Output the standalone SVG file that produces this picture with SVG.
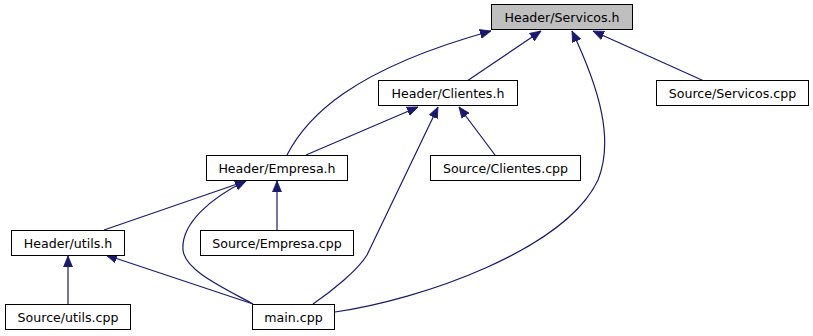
<svg xmlns="http://www.w3.org/2000/svg" width="813" height="336" viewBox="0 0 813 336">
  <style>
    .node rect { fill: #ffffff; stroke: #000000; stroke-width: 1; }
    .node.current rect { fill: #bfbfbf; }
    .node text { font-family: "DejaVu Sans", "Liberation Sans", sans-serif; font-size: 12.6px; fill: #000000; text-anchor: middle; }
    .edge { fill: none; stroke: #191970; stroke-width: 1.2; marker-end: url(#arrow); }
  </style>
  <defs>
    <marker id="arrow" markerUnits="userSpaceOnUse" markerWidth="12" markerHeight="10" refX="11" refY="4.5" orient="auto" viewBox="0 0 12 9">
      <path d="M0,0 L11,4.5 L0,9 z" fill="#191970" stroke="#191970" stroke-width="0.8"/>
    </marker>
  </defs>

  <rect width="813" height="336" fill="#ffffff"/>

  <!-- include dependency edges -->
  <g id="edges">
    <path class="edge" d="M467,81 L541,31"/>
    <path class="edge" d="M287,155 C306,118 350,70 491,31"/>
    <path class="edge" d="M335,312 C420,300 565,250 598,180 C614,140 600,90 572,31"/>
    <path class="edge" d="M704,81 L593,31"/>
    <path class="edge" d="M306,155 L418,107"/>
    <path class="edge" d="M313,304 C332,291 358,270 367,255 L438,107"/>
    <path class="edge" d="M495,155 L459,107"/>
    <path class="edge" d="M104,230 L246,181"/>
    <path class="edge" d="M277,230 L277,181"/>
    <path class="edge" d="M253,304 C220,286 185,270 183,250 C181,224 210,198 246,181"/>
    <path class="edge" d="M68,304 L68,256"/>
    <path class="edge" d="M253,304 L106,255"/>
  </g>

  <g id="node_servicos_h" class="node current">
    <rect x="491.5" y="4.5" width="141" height="25"/>
    <text x="562" y="22">Header/Servicos.h</text>
  </g>
  <g id="node_clientes_h" class="node">
    <rect x="378.5" y="80.5" width="139" height="25"/>
    <text x="448" y="98">Header/Clientes.h</text>
  </g>
  <g id="node_servicos_cpp" class="node">
    <rect x="656.5" y="80.5" width="152" height="25"/>
    <text x="732.5" y="98">Source/Servicos.cpp</text>
  </g>
  <g id="node_empresa_h" class="node">
    <rect x="206.5" y="155.5" width="141" height="25"/>
    <text x="277" y="173">Header/Empresa.h</text>
  </g>
  <g id="node_clientes_cpp" class="node">
    <rect x="430.5" y="155.5" width="150" height="25"/>
    <text x="505.5" y="173">Source/Clientes.cpp</text>
  </g>
  <g id="node_empresa_cpp" class="node">
    <rect x="200.5" y="230.5" width="153" height="25"/>
    <text x="277" y="248">Source/Empresa.cpp</text>
  </g>
  <g id="node_utils_h" class="node">
    <rect x="11.5" y="230.5" width="113" height="25"/>
    <text x="68" y="248">Header/utils.h</text>
  </g>
  <g id="node_utils_cpp" class="node">
    <rect x="5.5" y="304.5" width="125" height="25"/>
    <text x="68" y="322">Source/utils.cpp</text>
  </g>
  <g id="node_main_cpp" class="node">
    <rect x="252.5" y="304.5" width="82" height="25"/>
    <text x="293.5" y="322">main.cpp</text>
  </g>
</svg>
